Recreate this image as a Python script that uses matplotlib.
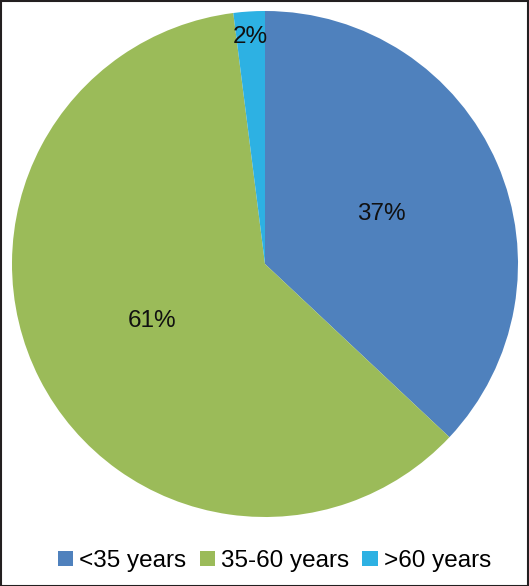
import matplotlib
matplotlib.use("Agg")
import matplotlib.pyplot as plt
from matplotlib.patches import Rectangle
import numpy as np

categories = ["<35 years", "35-60 years", ">60 years"]
values = [37, 61, 2]
colors = ["#4F81BD", "#9BBB59", "#2DB1E3"]

plt.rcParams['font.family'] = ['Liberation Sans', 'DejaVu Sans']

W, H = 529, 586
fig = plt.figure(figsize=(W / 100, H / 100), dpi=100)
cx, cy, r = 265, 264, 253
ax = fig.add_axes([(cx - r) / W, 1 - (cy + r) / H, 2 * r / W, 2 * r / H])
wedges, _ = ax.pie(values, colors=colors, startangle=90, counterclock=False,
                   radius=1, wedgeprops=dict(linewidth=0))
ax.set_xlim(-1, 1)
ax.set_ylim(-1, 1)
ax.set_aspect('equal')
ax.axis('off')

dists = [0.5, 0.5, 0.9]
for w, v, d in zip(wedges, values, dists):
    mid = np.deg2rad((w.theta1 + w.theta2) / 2)
    ax.text(d * np.cos(mid), d * np.sin(mid), f"{v}%", ha='center', va='center',
            fontsize=17.5, color='#111111')

leg = fig.legend(wedges, categories, loc='center', ncol=3,
                 bbox_to_anchor=(274.5 / W, 1 - 561 / H), frameon=False,
                 fontsize=17.5, handlelength=0.62, handleheight=0.62,
                 handletextpad=0.25, columnspacing=0.55, borderpad=0)

fig.add_artist(Rectangle((0.5 / W, 0.5 / H), 1 - 1.5 / W, 1 - 1.5 / H,
                         transform=fig.transFigure, fill=False,
                         edgecolor='#231F20', linewidth=1.5))
fig.savefig("out.png", dpi=100)
